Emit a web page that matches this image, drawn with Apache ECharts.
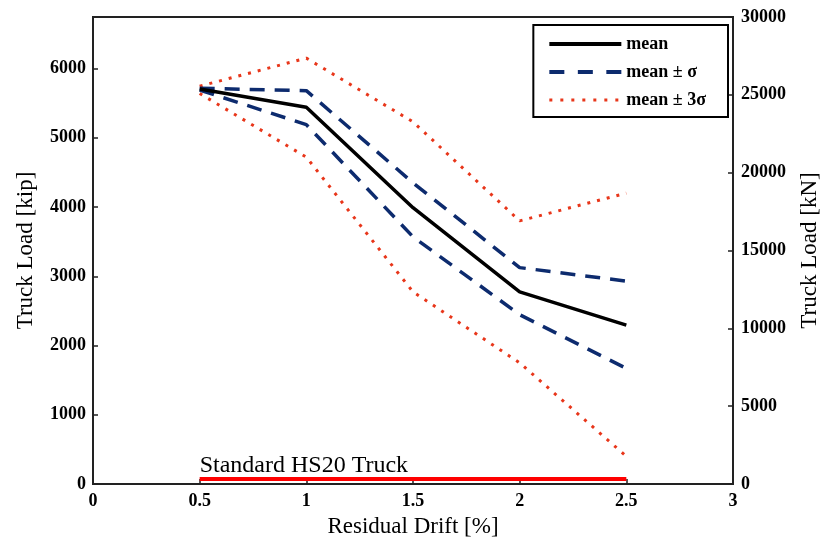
<!DOCTYPE html>
<html>
<head>
<meta charset="utf-8">
<script src="https://cdn.jsdelivr.net/npm/echarts@6/dist/echarts.min.js"></script>
<style>
  html, body { margin: 0; padding: 0; background: #fff; }
  #main { width: 821px; height: 544px; }
</style>
</head>
<body>
<div id="main"></div>
<script>
// residual drift [%]
var drift = [0.5, 1, 1.5, 2, 2.5];
// truck load [kip]
var meanLoad = [5705, 5440, 3990, 2775, 2295];
var plusSigma = [5715, 5680, 4350, 3125, 2930];
var minusSigma = [5690, 5190, 3570, 2445, 1670];
var plus3Sigma = [5745, 6150, 5230, 3800, 4200];
var minus3Sigma = [5640, 4720, 2775, 1750, 400];
// standard HS20 truck [kip]
var hs20Drift = [0.5, 2.5];
var hs20Load = [72, 72];

var xTicks = [0, 0.5, 1, 1.5, 2, 2.5, 3];
var kipTicks = [0, 1000, 2000, 3000, 4000, 5000, 6000];
var kNTicks = [0, 5000, 10000, 15000, 20000, 25000, 30000];
var kipMax = 30000 / 4.448222;

function pairs(xs, ys) {
  return xs.map(function (x, i) { return [x, ys[i]]; });
}

var font = 'Liberation Serif, Times New Roman, serif';
var tickLabel = { color: '#000', fontFamily: font, fontWeight: 'bold', fontSize: 18 };
var nameStyle = { color: '#000', fontFamily: font, fontSize: 23 };
var axisLine = { show: true, lineStyle: { color: '#222', width: 2 } };
var axisTick = { show: true, inside: true, length: 5, lineStyle: { color: '#222', width: 1.5 } };

var navy = '#0d2b6e';
var red = '#e8361a';

var chart = echarts.init(document.getElementById('main'));
chart.setOption({
  animation: false,
  grid: {
    left: 93, right: 88, top: 17, bottom: 60,
    outerBoundsMode: 'none',
    show: true, borderColor: '#222', borderWidth: 2
  },
  legend: {
    orient: 'vertical',
    right: 93, top: 25,
    itemWidth: 72, itemHeight: 12, itemGap: 10,
    padding: [10, 22, 8, 14],
    borderColor: '#000', borderWidth: 2,
    backgroundColor: '#fff',
    itemStyle: { opacity: 0 },
    data: [
      { name: 'mean', lineStyle: { width: 4 } },
      { name: 'mean ± σ', lineStyle: { width: 4, type: [15, 13.5] } },
      { name: 'mean ± 3σ', lineStyle: { width: 3, type: [3, 8] } }
    ],
    textStyle: { color: '#000', fontFamily: font, fontWeight: 'bold', fontSize: 18 }
  },
  xAxis: {
    type: 'value',
    min: 0, max: 3, interval: 0.5,
    name: 'Residual Drift [%]',
    nameLocation: 'middle', nameGap: 31,
    nameTextStyle: nameStyle,
    axisLine: axisLine, axisTick: axisTick,
    axisLabel: Object.assign({ margin: 8, formatter: function (v) {
      return xTicks.indexOf(v) >= 0 ? String(v) : '';
    } }, tickLabel),
    splitLine: { show: false }
  },
  yAxis: [
    {
      type: 'value',
      min: 0, max: kipMax, interval: 1000,
      name: 'Truck Load [kip]',
      nameLocation: 'middle', nameGap: 56,
      nameTextStyle: nameStyle,
      axisLine: axisLine, axisTick: axisTick,
      axisLabel: Object.assign({ margin: 7, showMaxLabel: false, formatter: function (v) {
        return kipTicks.indexOf(v) >= 0 ? String(v) : '';
      } }, tickLabel),
      splitLine: { show: false }
    },
    {
      type: 'value',
      position: 'right',
      min: 0, max: 30000, interval: 5000,
      name: 'Truck Load [kN]',
      nameLocation: 'middle', nameGap: 65,
      nameTextStyle: nameStyle,
      axisLine: axisLine, axisTick: axisTick,
      axisLabel: Object.assign({ margin: 8, formatter: function (v) {
        return kNTicks.indexOf(v) >= 0 ? String(v) : '';
      } }, tickLabel),
      splitLine: { show: false }
    }
  ],
  series: [
    {
      name: 'Standard HS20 Truck',
      type: 'line',
      data: pairs(hs20Drift, hs20Load).map(function (p, i) {
        return i === 0 ? {
          value: p,
          label: {
            show: true, formatter: 'Standard HS20 Truck',
            position: [0, 0], align: 'left', verticalAlign: 'bottom', offset: [0, -1],
            color: '#000', fontFamily: font, fontSize: 24
          }
        } : p;
      }),
      symbol: 'circle', symbolSize: 0, showSymbol: true,
      lineStyle: { color: '#ff0000', width: 4 },
      itemStyle: { color: '#ff0000' },
      z: 1
    },
    {
      name: 'mean ± 3σ', type: 'line', data: pairs(drift, plus3Sigma),
      symbol: 'none', color: red,
      lineStyle: { color: red, width: 3, type: [3, 7] }
    },
    {
      name: 'mean ± 3σ', type: 'line', data: pairs(drift, minus3Sigma),
      symbol: 'none', color: red,
      lineStyle: { color: red, width: 3, type: [3, 7] }
    },
    {
      name: 'mean ± σ', type: 'line', data: pairs(drift, plusSigma),
      symbol: 'none', color: navy,
      lineStyle: { color: navy, width: 3.5, type: [15, 10] }
    },
    {
      name: 'mean ± σ', type: 'line', data: pairs(drift, minusSigma),
      symbol: 'none', color: navy,
      lineStyle: { color: navy, width: 3.5, type: [15, 10] }
    },
    {
      name: 'mean', type: 'line', data: pairs(drift, meanLoad),
      symbol: 'none', color: '#000',
      lineStyle: { color: '#000', width: 3.5 }
    }
  ]
});
</script>
</body>
</html>
